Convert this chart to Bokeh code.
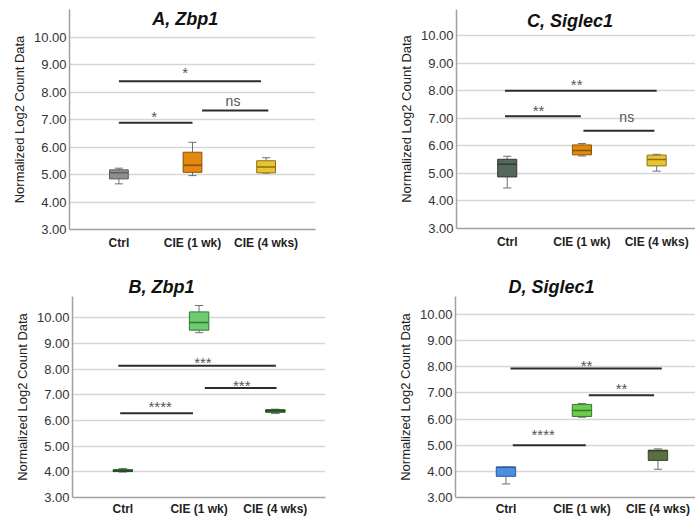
import numpy as np
from bokeh.plotting import figure
from bokeh.layouts import row, column
from bokeh.models import (ColumnDataSource, Range1d, FixedTicker, PrintfTickFormatter, Label)
from bokeh.core.properties import value
from bokeh.embed import file_html
from bokeh.resources import INLINE

FONT = "Liberation Sans"

categories = ["Ctrl", "CIE (1 wk)", "CIE (4 wks)"]
positions = [1, 2, 3]
y_ticks = [3, 4, 5, 6, 7, 8, 9, 10]
y_label = "Normalized Log2 Count Data"

# ---------------- Panel A, Zbp1 ----------------
a_title = "A, Zbp1"
a_low = [4.66, 4.96, 5.05]
a_q1 = [4.84, 5.08, 5.06]
a_med = [5.06, 5.34, 5.27]
a_q3 = [5.17, 5.81, 5.50]
a_high = [5.23, 6.17, 5.61]
a_sig_x0 = [1.0, 1.0, 2.13]
a_sig_x1 = [2.93, 2.0, 3.03]
a_sig_y = [8.39, 6.88, 7.33]
a_sig_text = ["*", "*", "ns"]
a_sig_tx = [1.9, 1.48, 2.55]
a_sig_ty = [8.82, 7.22, 7.63]

# ---------------- Panel C, Siglec1 ----------------
c_title = "C, Siglec1"
c_low = [4.47, 5.63, 5.08]
c_q1 = [4.87, 5.67, 5.27]
c_med = [5.33, 5.83, 5.50]
c_q3 = [5.51, 6.03, 5.66]
c_high = [5.62, 6.08, 5.69]
c_sig_x0 = [0.97, 0.97, 2.02]
c_sig_x1 = [3.0, 1.985, 2.97]
c_sig_y = [7.99, 7.07, 6.54]
c_sig_text = ["**", "**", "ns"]
c_sig_tx = [1.93, 1.42, 2.6]
c_sig_ty = [8.34, 7.37, 6.99]

# ---------------- Panel B, Zbp1 ----------------
b_title = "B, Zbp1"
b_low = [3.99, 9.42, 6.27]
b_q1 = [4.01, 9.52, 6.32]
b_med = [4.05, 9.82, 6.38]
b_q3 = [4.08, 10.23, 6.42]
b_high = [4.13, 10.48, 6.44]
b_sig_x0 = [0.94, 0.965, 2.075]
b_sig_x1 = [3.007, 1.92, 3.016]
b_sig_y = [8.13, 6.28, 7.27]
b_sig_text = ["***", "****", "***"]
b_sig_tx = [2.05, 1.49, 2.56]
b_sig_ty = [8.38, 6.65, 7.47]

# ---------------- Panel D, Siglec1 ----------------
d_title = "D, Siglec1"
d_low = [3.52, 6.07, 4.08]
d_q1 = [3.81, 6.10, 4.42]
d_med = [4.16, 6.33, 4.79]
d_q3 = [4.16, 6.56, 4.81]
d_high = [4.16, 6.60, 4.86]
d_sig_x0 = [1.06, 1.09, 2.09]
d_sig_x1 = [3.05, 2.05, 2.95]
d_sig_y = [7.93, 5.0, 6.91]
d_sig_text = ["**", "****", "**"]
d_sig_tx = [2.06, 1.49, 2.52]
d_sig_ty = [8.15, 5.54, 7.3]

# colours (fill, outline) per box
a_fill = ["#8f8f8f", "#e3890f", "#e9c431"]
a_edge = ["#5e5e5e", "#8a5206", "#8a7010"]
c_fill = ["#56685b", "#e3890f", "#e9c431"]
c_edge = ["#2f3b32", "#8a5206", "#8a7010"]
b_fill = ["#3a7a3a", "#6fcb6f", "#3c8a3c"]
b_edge = ["#1f4f1f", "#2f7a2f", "#1f4f1f"]
d_fill = ["#4a8fe0", "#6ccb4a", "#5b6f3f"]
d_edge = ["#2a5a9a", "#3a7a2a", "#36452a"]

BOX_W = 0.255
CAP_W = 0.11


def make_panel(title, title_inside, title_x, title_y, low, q1, med, q3, high, fills, edges,
               sx0, sx1, sy, stext, stx, sty,
               x_start, x_end, y_end, fw, fh, bl, br, bt, bb, x_standoff):
    p = figure(frame_width=fw, frame_height=fh,
               x_range=Range1d(x_start, x_end), y_range=Range1d(3, y_end),
               output_backend="svg", toolbar_location=None,
               min_border_left=bl, min_border_right=br,
               min_border_top=bt, min_border_bottom=bb)
    p.outline_line_color = None
    p.background_fill_color = "white"
    p.border_fill_color = "white"
    p.xgrid.visible = False
    p.ygrid.ticker = FixedTicker(ticks=y_ticks)
    p.ygrid.grid_line_color = "#d6d6d6"
    p.ygrid.grid_line_width = 1.5

    # y axis
    ya = p.yaxis[0]
    ya.ticker = FixedTicker(ticks=y_ticks)
    ya.formatter = PrintfTickFormatter(format="%.2f")
    ya.axis_label = y_label
    ya.axis_label_text_font = FONT
    ya.axis_label_text_font_style = "normal"
    ya.axis_label_text_font_size = "13px"
    ya.axis_label_text_color = "#222222"
    ya.axis_label_standoff = 4
    ya.major_label_text_font = FONT
    ya.major_label_text_font_size = "13px"
    ya.major_label_text_color = "#333333"
    ya.major_label_standoff = 3
    ya.major_tick_out = 0
    ya.major_tick_in = 0
    ya.major_tick_line_color = None
    ya.minor_tick_line_color = None
    ya.axis_line_color = "#a0a0a0"
    ya.axis_line_width = 1.5

    # x axis
    xa = p.xaxis[0]
    xa.ticker = FixedTicker(ticks=positions)
    xa.major_label_overrides = {pos: cat for pos, cat in zip(positions, categories)}
    xa.major_label_text_font = FONT
    xa.major_label_text_font_style = "bold"
    xa.major_label_text_font_size = "12px"
    xa.major_label_text_color = "#222222"
    xa.major_label_standoff = x_standoff
    xa.major_tick_out = 0
    xa.major_tick_in = 0
    xa.major_tick_line_color = None
    xa.minor_tick_line_color = None
    xa.axis_line_color = "#a0a0a0"
    xa.axis_line_width = 1.5

    xs = np.array(positions, dtype=float)
    src = ColumnDataSource(dict(
        x=xs, low=low, q1=q1, med=med, q3=q3, high=high,
        fill=fills, edge=edges,
        cl=xs - CAP_W / 2, cr=xs + CAP_W / 2,
        ml=xs - BOX_W / 2, mr=xs + BOX_W / 2))
    # whiskers
    p.segment(x0="x", y0="low", x1="x", y1="high", source=src,
              line_color="#707070", line_width=1)
    p.segment(x0="cl", y0="low", x1="cr", y1="low", source=src,
              line_color="#707070", line_width=1)
    p.segment(x0="cl", y0="high", x1="cr", y1="high", source=src,
              line_color="#707070", line_width=1)
    # boxes
    p.vbar(x="x", width=BOX_W, bottom="q1", top="q3", source=src,
           fill_color="fill", line_color="edge", line_width=1)
    # medians
    p.segment(x0="ml", y0="med", x1="mr", y1="med", source=src,
              line_color="edge", line_width=1.5)

    # significance bars
    ssrc = ColumnDataSource(dict(
        x0=sx0, x1=sx1, y=sy, tx=stx, ty=sty, text=stext,
        size=["15px" if t.startswith("*") else "14px" for t in stext],
        yoff=[3 if t.startswith("*") else -1 for t in stext]))
    p.segment(x0="x0", y0="y", x1="x1", y1="y", source=ssrc,
              line_color="#2b2b2b", line_width=2)
    p.text(x="tx", y="ty", text="text", source=ssrc,
           text_align="center", text_baseline="middle",
           text_font=value(FONT), text_font_size="size",
           text_color="#555555", y_offset="yoff")

    if title_inside:
        p.add_layout(Label(x=title_x, y=title_y, text=title,
                           text_align="center", text_baseline="middle",
                           text_font=FONT, text_font_style="bold italic",
                           text_font_size="18px", text_color="#111111"))
    else:
        p.title.text = title
        p.title.align = "left"
        p.title.offset = title_x
        p.title.standoff = 0
        p.title.text_font = FONT
        p.title.text_font_style = "bold italic"
        p.title.text_font_size = "18px"
        p.title.text_color = "#111111"
    return p


pa = make_panel(a_title, True, 1.9, 10.67, a_low, a_q1, a_med, a_q3, a_high, a_fill, a_edge,
                a_sig_x0, a_sig_x1, a_sig_y, a_sig_text, a_sig_tx, a_sig_ty,
                0.329, 3.671, 11.0, 246, 220, 69, 80, 9, 26, 6)
pc = make_panel(c_title, True, 1.84, 10.51, c_low, c_q1, c_med, c_q3, c_high, c_fill, c_edge,
                c_sig_x0, c_sig_x1, c_sig_y, c_sig_text, c_sig_tx, c_sig_ty,
                0.321, 3.52, 10.94, 239, 219, 61, 0, 9, 27, 6)
pb = make_panel(b_title, False, 56, None, b_low, b_q1, b_med, b_q3, b_high, b_fill, b_edge,
                b_sig_x0, b_sig_x1, b_sig_y, b_sig_text, b_sig_tx, b_sig_ty,
                0.34, 3.658, 10.83, 253, 201, 72, 69, 41, 18, 4)
pd_ = make_panel(d_title, False, 53, None, d_low, d_q1, d_med, d_q3, d_high, d_fill, d_edge,
                 d_sig_x0, d_sig_x1, d_sig_y, d_sig_text, d_sig_tx, d_sig_ty,
                 0.336, 3.494, 10.689, 240, 201, 61, 0, 41, 18, 4)

layout = column(row(pa, pc), row(pb, pd_))
open("out.html", "w").write(file_html(layout, INLINE))
